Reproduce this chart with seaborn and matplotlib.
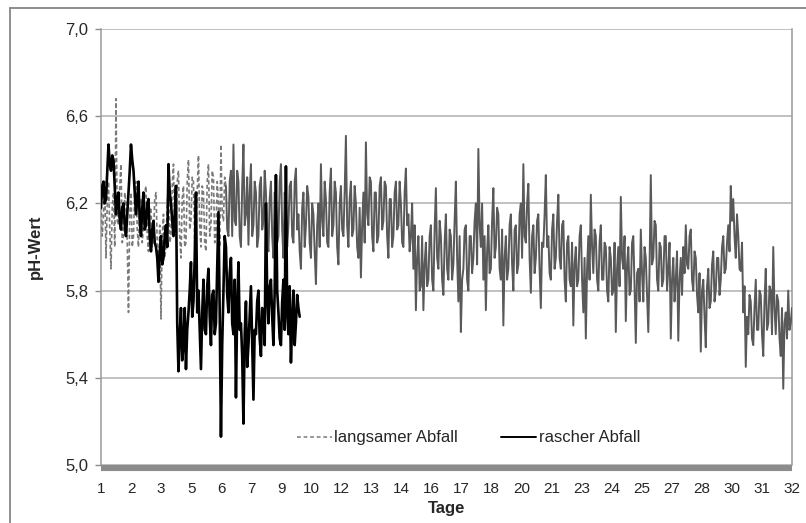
import numpy as np
import pandas as pd
import matplotlib
matplotlib.use("Agg")
import matplotlib.pyplot as plt
from matplotlib.lines import Line2D
import seaborn as sns

# ---- data ----
tick_labels = ["1", "2", "3", "5", "6", "7", "9", "10", "12", "13", "14", "16",
               "17", "18", "20", "21", "23", "24", "25", "27", "28", "30", "31", "32"]

# "langsamer Abfall": readings in pairs (swing value a, counter-swing value b)
langsam_a = [
    6.22, 6.15, 5.95, 6.30, 5.90, 6.25, 6.68, 6.10, 6.38, 6.05,
    6.20, 5.70, 6.25, 6.05, 6.30, 6.00, 6.22, 6.10, 6.28, 5.98,
    6.18, 6.05, 6.25, 5.85, 5.67, 6.15, 6.00, 6.30, 6.05, 6.38,
    6.10, 6.35, 5.95, 6.28, 6.02, 6.40, 6.12, 6.30, 6.05, 6.42,
    6.00, 6.25, 5.98, 6.38, 6.10, 6.32, 6.05, 6.20, 6.47, 6.12,
    6.28, 6.05, 6.35, 6.47, 6.10, 6.30, 6.00, 6.47, 6.15, 6.01,
    6.38, 6.10, 6.25, 6.05, 6.32, 6.12, 6.25, 5.98, 6.30, 5.95,
    6.22, 6.05, 6.38, 5.95, 6.20, 6.10, 6.30, 6.02, 6.36, 6.15,
    5.90, 6.25, 6.10, 6.23, 5.95, 6.15, 5.83, 6.20, 6.38, 6.05,
    6.22, 6.00, 6.36, 6.10, 6.25, 5.92, 6.28, 6.05, 6.51, 6.00,
    6.30, 6.08, 6.20, 5.95, 5.86, 6.25, 6.48, 6.10, 6.30, 5.98,
    6.25, 6.05, 6.32, 6.12, 6.28, 5.95, 6.22, 6.05, 6.30, 6.10,
    6.20, 6.00, 6.36, 6.15, 6.05, 5.90, 5.71, 6.05, 5.82, 5.71,
    6.02, 5.85, 6.10, 5.80, 6.27, 5.90, 6.05, 5.78, 6.15, 5.85,
    6.05, 5.92, 6.30, 5.75, 5.61, 5.90, 6.10, 5.80, 6.05, 5.95,
    6.20, 6.45, 6.00, 5.85, 5.71, 6.10, 5.90, 6.27, 6.00, 6.15,
    5.85, 5.64, 6.05, 5.90, 6.15, 5.80, 6.10, 5.92, 6.20, 6.38,
    6.02, 6.29, 5.79, 6.10, 5.95, 6.15, 5.72, 6.00, 6.33, 6.05,
    5.85, 6.15, 5.95, 6.24, 5.90, 6.12, 5.75, 6.05, 5.82, 5.64,
    6.00, 5.85, 6.10, 5.70, 5.58, 6.05, 6.24, 5.88, 6.05, 5.80,
    6.10, 5.85, 6.00, 5.75, 5.95, 5.80, 5.61, 6.00, 6.23, 5.90,
    5.66, 6.00, 5.80, 6.05, 5.56, 5.90, 6.08, 5.75, 5.95, 5.61,
    6.33, 5.95, 6.10, 5.80, 6.00, 5.85, 6.05, 5.90, 5.58, 5.95,
    5.85, 5.57, 5.95, 6.00, 6.10, 5.90, 6.08, 5.80, 5.95, 5.70,
    5.52, 5.85, 5.54, 5.90, 5.75, 5.98, 5.80, 5.95, 5.85, 6.05,
    5.90, 6.10, 6.28, 6.22, 5.95, 6.05, 5.89, 5.70, 5.45, 5.60,
    5.75, 5.55, 5.85, 5.62, 5.78, 5.50, 5.90, 5.65, 5.80, 6.00,
    5.60, 5.75, 5.50, 5.35, 5.70, 5.80, 5.65,
]
langsam_b = [
    6.05, 6.30, 6.20, 6.08, 6.18, 6.00, 6.12, 6.28, 6.02, 6.25,
    6.02, 6.15, 6.00, 6.26, 6.08, 6.20, 6.02, 6.25, 6.05, 6.18,
    6.00, 6.22, 6.02, 6.10, 6.05, 5.95, 6.20, 6.02, 6.28, 6.08,
    6.30, 6.05, 6.22, 6.00, 6.30, 6.08, 6.32, 6.02, 6.25, 6.10,
    6.28, 6.02, 6.30, 6.05, 6.35, 6.02, 6.30, 6.00, 6.15, 6.32,
    6.08, 6.30, 6.05, 6.12, 6.35, 6.05, 6.28, 6.10, 6.32, 6.25,
    6.05, 6.30, 6.00, 6.28, 6.08, 6.35, 6.02, 6.22, 6.05, 6.25,
    6.02, 6.30, 6.08, 6.25, 6.00, 6.28, 6.05, 6.30, 6.08, 5.98,
    6.18, 6.00, 6.28, 6.02, 6.20, 5.98, 6.10, 6.00, 6.12, 6.30,
    6.02, 6.25, 6.05, 6.30, 6.00, 6.20, 6.08, 6.25, 6.10, 6.22,
    6.05, 6.28, 6.00, 6.18, 6.10, 6.02, 6.15, 6.32, 6.05, 6.25,
    6.02, 6.28, 6.08, 6.30, 6.05, 6.22, 6.00, 6.25, 6.08, 6.30,
    6.02, 6.25, 6.10, 5.98, 6.20, 6.10, 5.95, 5.80, 6.05, 5.92,
    5.82, 6.05, 5.85, 6.08, 5.95, 6.12, 5.85, 6.02, 5.90, 6.08,
    5.85, 6.12, 5.95, 6.05, 5.85, 6.08, 5.85, 6.05, 5.88, 6.12,
    5.92, 6.10, 6.20, 6.05, 5.98, 5.88, 6.12, 5.95, 6.18, 5.90,
    6.08, 5.95, 5.85, 6.10, 5.92, 6.08, 5.88, 6.15, 5.95, 6.05,
    6.20, 5.95, 6.05, 5.88, 6.12, 5.90, 6.02, 6.15, 6.00, 5.88,
    6.08, 5.90, 6.12, 5.95, 6.10, 5.85, 6.02, 5.85, 6.02, 5.92,
    5.82, 6.05, 5.85, 5.95, 5.90, 5.85, 6.00, 6.08, 5.85, 6.02,
    5.85, 6.02, 5.80, 6.00, 5.78, 6.02, 5.90, 5.82, 5.95, 6.05,
    5.92, 5.78, 6.02, 5.82, 5.88, 5.75, 5.88, 6.00, 5.78, 5.90,
    5.92, 6.12, 5.85, 6.02, 5.82, 6.05, 5.80, 6.02, 5.85, 5.75,
    5.98, 5.85, 5.78, 5.88, 5.92, 6.05, 5.85, 5.98, 5.78, 5.88,
    5.80, 5.68, 5.82, 5.72, 5.92, 5.75, 5.95, 5.78, 6.00, 5.88,
    6.02, 5.98, 6.12, 6.05, 6.15, 5.90, 6.02, 5.82, 5.68, 5.78,
    5.58, 5.72, 5.62, 5.80, 5.60, 5.75, 5.62, 5.82, 5.60, 5.72,
    5.78, 5.58, 5.72, 5.65, 5.58, 5.62, 5.72,
]
langsam_dashed_pairs = 50  # reading pairs drawn in the dashed (early) look

# "rascher Abfall": readings in pairs
rasch_a = [
    6.18, 6.30, 6.22, 6.47, 6.35, 6.40, 6.15, 6.25, 6.08, 6.20,
    6.05, 6.25, 6.47, 6.35, 6.15, 6.30, 6.05, 6.25, 6.10, 6.22,
    5.98, 6.12, 6.00, 5.84, 6.05, 5.95, 6.10, 6.38, 6.20, 6.05,
    6.28, 5.43, 5.72, 5.55, 5.44, 5.70, 5.93, 5.75, 6.25, 5.80,
    5.44, 5.85, 5.60, 5.90, 5.55, 5.80, 5.65, 6.16, 5.13, 5.80,
    6.00, 5.70, 5.95, 5.60, 5.31, 5.93, 5.65, 5.19, 5.75, 5.55,
    5.82, 5.30, 5.60, 5.80, 5.50, 5.70, 6.20, 5.65, 5.85, 5.55,
    6.33, 5.70, 5.55, 5.85, 6.37, 5.60, 5.47, 5.80, 5.65, 5.72,
]
rasch_b = [
    6.28, 6.20, 6.35, 6.38, 6.42, 6.28, 6.22, 6.12, 6.18, 6.10,
    6.15, 6.35, 6.40, 6.25, 6.22, 6.12, 6.18, 6.08, 6.20, 6.05,
    6.08, 6.02, 5.95, 5.98, 5.92, 6.05, 6.00, 6.25, 6.12, 6.15,
    5.65, 5.60, 5.48, 5.72, 5.62, 5.80, 5.68, 5.95, 5.70, 5.62,
    5.70, 5.62, 5.82, 5.68, 5.78, 5.60, 5.90, 5.70, 5.55, 6.05,
    5.78, 5.88, 5.65, 5.85, 5.72, 5.62, 5.50, 5.60, 5.45, 5.68,
    5.55, 5.62, 5.75, 5.58, 5.72, 5.55, 5.78, 5.82, 5.68, 5.80,
    5.80, 5.58, 5.75, 5.62, 5.70, 5.82, 5.65, 5.55, 5.78, 5.68,
]

langsam_ph = np.column_stack([langsam_a, langsam_b]).ravel()
rasch_ph = np.column_stack([rasch_a, rasch_b]).ravel()
n_g = len(langsam_ph)
cut = 2 * langsam_dashed_pairs

df_l = pd.DataFrame({"Messung": np.arange(n_g), "pH": langsam_ph})
df_r = pd.DataFrame({"Messung": np.arange(len(rasch_ph)), "pH": rasch_ph})
df_l_dash = df_l.iloc[: cut + 1]
df_l_solid = df_l.iloc[cut:]

# ---- style ----
sns.set_theme(style="white")
plt.rcParams["font.family"] = ["Liberation Sans", "DejaVu Sans"]
FS = 12

fig = plt.figure(figsize=(8.06, 5.23), dpi=100)
ax = fig.add_axes([101 / 806, 1 - 465 / 523, 691 / 806, 436 / 523])

gray = "#595959"
dash_gray = "#7a7a7a"
sns.lineplot(data=df_l_dash, x="Messung", y="pH", ax=ax, color=dash_gray,
             linewidth=1.2, linestyle=(0, (2.5, 1.6)), sort=False,
             estimator=None, zorder=3)
sns.lineplot(data=df_l_solid, x="Messung", y="pH", ax=ax, color=gray,
             linewidth=1.4, sort=False, estimator=None, zorder=3)
sns.lineplot(data=df_r, x="Messung", y="pH", ax=ax, color="black",
             linewidth=1.9, sort=False, estimator=None, zorder=4)

ax.set_xlim(0, n_g - 1)
ax.set_ylim(5.0, 7.0)
ax.set_yticks([5.0, 5.4, 5.8, 6.2, 6.6, 7.0])
ax.set_yticklabels(["5,0", "5,4", "5,8", "6,2", "6,6", "7,0"], fontsize=FS)
ax.set_xticks(np.linspace(0, n_g - 1, len(tick_labels)))
ax.set_xticklabels(tick_labels, fontsize=FS)
ax.grid(axis="y", color="#b0b0b0", linewidth=1.1)
ax.grid(axis="x", visible=False)
ax.set_axisbelow(True)

ax.tick_params(axis="y", length=4, width=1, color="#8c8c8c", pad=5, left=True)
ax.tick_params(axis="x", length=0, pad=10)

for s in ["left", "top", "right"]:
    ax.spines[s].set_color("#9a9a9a")
    ax.spines[s].set_linewidth(1.1)
ax.spines["top"].set_visible(False)
ax.spines["bottom"].set_color("#8c8c8c")
ax.spines["bottom"].set_linewidth(4.4)
ax.spines["bottom"].set_position(("outward", 2.2))
ax.spines["bottom"].set_capstyle("butt")

ax.set_xlabel("Tage", fontsize=FS, fontweight="bold", labelpad=4)
ax.set_ylabel("pH-Wert", fontsize=FS, fontweight="bold", labelpad=16)

handles = [
    Line2D([], [], color=dash_gray, linewidth=1.1, linestyle=(0, (2.5, 1.8))),
    Line2D([], [], color="black", linewidth=1.4),
]
ax.legend(handles, ["langsamer Abfall", "rascher Abfall"], ncol=2,
          loc="center", bbox_to_anchor=(0.532, 0.062), frameon=False,
          fontsize=FS, handlelength=2.1, handletextpad=0.15,
          columnspacing=2.6)

# outer chart border (top and left visible)
fig.add_artist(Line2D([10 / 806, 1.0], [1 - 8 / 523, 1 - 8 / 523],
                      transform=fig.transFigure, color="#868686", linewidth=1.3))
fig.add_artist(Line2D([10 / 806, 10 / 806], [0.0, 1 - 8 / 523],
                      transform=fig.transFigure, color="#868686", linewidth=1.3))

fig.savefig("out.png", dpi=100)
